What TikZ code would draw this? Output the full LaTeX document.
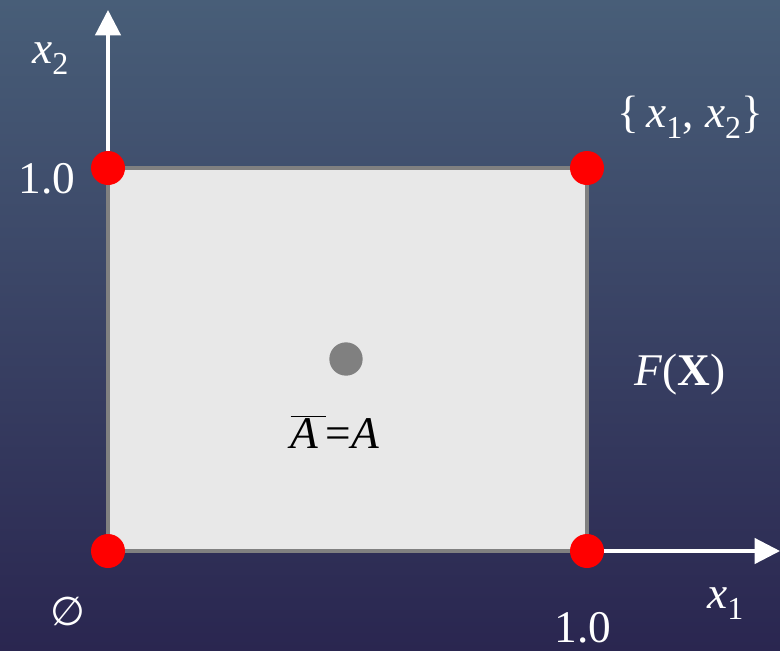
\documentclass[tikz,border=0pt]{standalone}
\usepackage{fontspec}
\setmainfont{Liberation Serif}
\newfontfamily\symfont{DejaVu Sans}
\usepackage{xcolor}
\usetikzlibrary{arrows.meta}

\definecolor{bgtop}{RGB}{72,94,120}
\definecolor{bgmid}{RGB}{58,76,110}
\definecolor{bgbot}{RGB}{42,38,80}
\definecolor{boxfill}{RGB}{232,232,232}
\newcommand{\lowidx}[1]{\raisebox{-0.26em}{\fontsize{24}{24}\selectfont #1}}

\begin{document}
\begin{tikzpicture}[
      x=0.75pt, y=-0.75pt,
      font=\fontsize{34}{40}\selectfont,
      lbl/.style={text=white, inner sep=0pt},
      corner/.style={circle, fill=red, minimum size=25.5pt, inner sep=0pt},
      axis/.style={draw=white, line width=2.4pt, -{Triangle[length=19pt, width=19pt]}}
    ]
    % background
    \shade[top color=bgtop, middle color=bgmid, bottom color=bgbot] (0,0) rectangle (780,650);
    \useasboundingbox (0,0) rectangle (780,650);

    \coordinate (o) at (108,551);
    \coordinate (p) at (587,551);
    \coordinate (q) at (108,168);
    \coordinate (r) at (587,168);
    \coordinate (ytip) at (108,10);
    \coordinate (xtip) at (780,551);

    \draw[draw=gray, line width=2.3pt, fill=boxfill] (o) rectangle (r);
    \draw[axis] (q) -- (ytip);
    \draw[axis] (p) -- (xtip);

    \node[corner] (empty) at (o) {};
    \node[corner] (one) at (p) {};
    \node[corner] (two) at (q) {};
    \node[corner] (full) at (r) {};
    \node[circle, fill=gray, minimum size=25pt, inner sep=0pt] (mid) at (346,359) {};

    % labels
    \node[lbl, anchor=base west] (ylab) at (32,63) {\textit{x}\lowidx{2}};
    \node[lbl, anchor=base] (ytick) at (47,193) {1.0};
    \node[lbl, anchor=base] (fullab) at (690,127) {\{\,\textit{x}\lowidx{1}, \textit{x}\lowidx{2}\}};
    \node[lbl, anchor=base] (flab) at (680,385) {\textit{F}(\textbf{X})};
    \node[inner sep=0pt, anchor=base] (alab) at (335,448) {$\overline{\mbox{\itshape A\,}}$=\textit{A}};
    \node[lbl, font=\fontsize{30}{36}\symfont] (emptylab) at (68,611) {∅};
    \node[lbl, anchor=base] (xtick) at (583,642) {1.0};
    \node[lbl, anchor=base west] (xlab) at (707,608) {\textit{x}\lowidx{1}};
  \end{tikzpicture}
\end{document}
